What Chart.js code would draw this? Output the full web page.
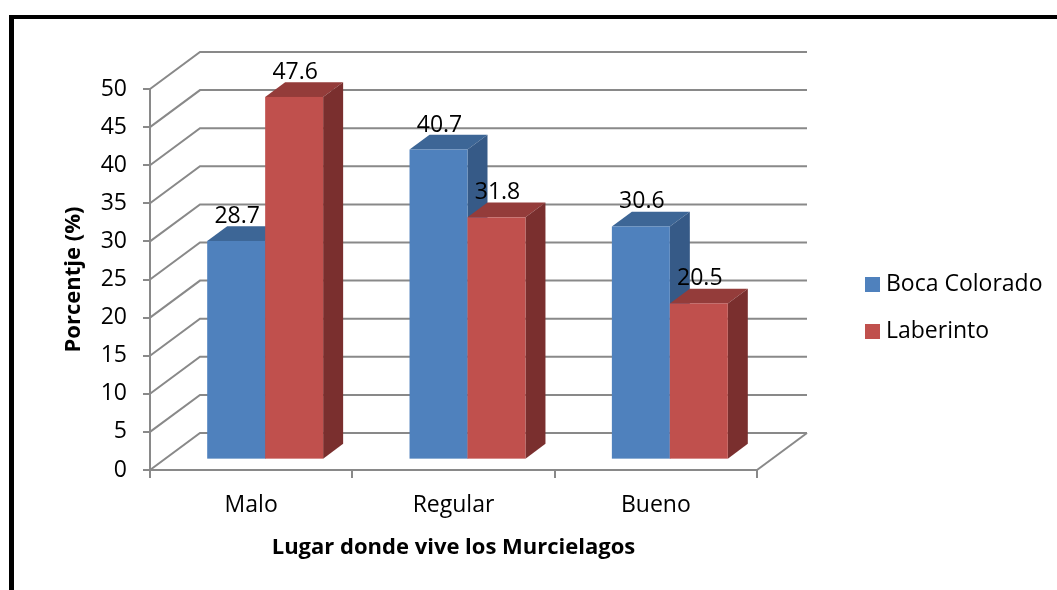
<!DOCTYPE html>
<html>
<head>
<meta charset="utf-8">
<script src="https://cdn.jsdelivr.net/npm/chart.js@4.4.1/dist/chart.umd.min.js"></script>
<style>
  html, body { margin: 0; padding: 0; background: #fff; overflow: hidden; }
</style>
</head>
<body>
<canvas id="chart" width="1057" height="590"></canvas>
<script>
// datos
const categories = ['Malo', 'Regular', 'Bueno'];
const seriesNames = ['Boca Colorado', 'Laberinto'];
const bocaColorado = [28.7, 40.7, 30.6];
const laberinto = [47.6, 31.8, 20.5];
const yMin = 0, yMax = 50, yStep = 5;

const FONT = 'Open Sans';
const frontColors = ['#4F81BD', '#C0504D'];
const topColors = ['#3D6696', '#943C3A'];
const sideColors = ['#365A87', '#7A2F2E'];
const GRID = '#898989';

// profundidad del efecto 3D
const DX = 50, DY = -37;          // pared del fondo
const F0 = 0.28, F1 = 0.68;       // cara frontal / trasera de las barras

const box3d = {
  id: 'box3d',
  beforeDraw(chart) {
    const ctx = chart.ctx;
    ctx.save();
    ctx.fillStyle = '#fff';
    ctx.fillRect(0, 0, chart.width, chart.height);
    ctx.fillStyle = '#000';
    ctx.fillRect(9, 15, 5, chart.height - 15);
    ctx.fillRect(9, 15, chart.width - 9, 4);
    ctx.restore();
  },
  beforeDatasetsDraw(chart) {
    const ctx = chart.ctx;
    const area = chart.chartArea;
    const y = chart.scales.y;
    ctx.save();
    // paredes: lineas de division
    ctx.strokeStyle = GRID;
    ctx.lineWidth = 2;
    y.ticks.forEach(t => {
      const py = y.getPixelForValue(t.value);
      ctx.beginPath();
      ctx.moveTo(area.left, py);
      ctx.lineTo(area.left + DX, py + DY);
      ctx.lineTo(area.right + DX, py + DY);
      ctx.stroke();
    });
    // piso, borde derecho
    ctx.beginPath();
    ctx.moveTo(area.right, area.bottom);
    ctx.lineTo(area.right + DX, area.bottom + DY);
    ctx.stroke();

    // barras 3D
    const bx = (F1 - F0) * DX, by = (F1 - F0) * DY;
    const ox = F0 * DX, oy = F0 * DY;
    const metas = chart.data.datasets.map((d, i) => chart.getDatasetMeta(i));
    for (let c = 0; c < categories.length; c++) {
      metas.forEach((meta, s) => {
        const bar = meta.data[c];
        const L = bar.x - bar.width / 2 + ox, R = bar.x + bar.width / 2 + ox;
        const T = bar.y + oy, B = bar.base + oy;
        ctx.fillStyle = topColors[s];
        ctx.beginPath();
        ctx.moveTo(L, T); ctx.lineTo(R, T); ctx.lineTo(R + bx, T + by); ctx.lineTo(L + bx, T + by);
        ctx.closePath(); ctx.fill();
        ctx.fillStyle = sideColors[s];
        ctx.beginPath();
        ctx.moveTo(R, T); ctx.lineTo(R + bx, T + by); ctx.lineTo(R + bx, B + by); ctx.lineTo(R, B);
        ctx.closePath(); ctx.fill();
        ctx.fillStyle = frontColors[s];
        ctx.fillRect(L, T, R - L, B - T);
      });
    }
    // etiquetas de datos
    ctx.fillStyle = '#000';
    ctx.font = '23px "' + FONT + '"';
    ctx.textAlign = 'center';
    ctx.textBaseline = 'alphabetic';
    metas.forEach((meta, s) => {
      meta.data.forEach((bar, c) => {
        const v = chart.data.datasets[s].data[c];
        ctx.fillText(v.toFixed(1), bar.x + ox + 1, bar.y + oy - 18);
      });
    });
    ctx.restore();
    return false;
  },
  afterDraw(chart) {
    const ctx = chart.ctx;
    ctx.save();
    ctx.font = '23px "' + FONT + '"';
    ctx.textBaseline = 'middle';
    ctx.textAlign = 'left';
    chart.data.datasets.forEach((d, i) => {
      const cy = 284 + i * 47;
      ctx.fillStyle = d.backgroundColor;
      ctx.fillRect(865, cy - 7, 15, 15);
      ctx.fillStyle = '#000';
      ctx.fillText(d.label, 886, cy);
    });
    ctx.restore();
  }
};

new Chart(document.getElementById('chart'), {
  type: 'bar',
  data: {
    labels: categories,
    datasets: [
      { label: seriesNames[0], data: bocaColorado, backgroundColor: frontColors[0] },
      { label: seriesNames[1], data: laberinto, backgroundColor: frontColors[1] }
    ]
  },
  options: {
    responsive: false,
    animation: false,
    categoryPercentage: 0.573,
    barPercentage: 1,
    layout: { padding: { left: 60, top: 89, right: 300, bottom: 0 } },
    plugins: {
      legend: { display: false },
      tooltip: { enabled: false }
    },
    scales: {
      x: {
        offset: true,
        grid: { offset: true, drawOnChartArea: false, tickLength: 8, color: GRID, lineWidth: 2 },
        border: { color: GRID, width: 2 },
        ticks: { color: '#000', padding: 14, font: { family: FONT, size: 23 } },
        title: {
          display: true,
          text: 'Lugar donde vive los Murcielagos',
          color: '#000',
          font: { family: FONT, size: 22, weight: 'bold' },
          padding: { top: 0, bottom: 29 }
        },
        afterFit(scale) { scale.height = 120; }
      },
      y: {
        min: yMin,
        max: yMax,
        grid: { drawOnChartArea: false, tickLength: 7, color: GRID, lineWidth: 2 },
        border: { color: GRID, width: 2 },
        ticks: { stepSize: yStep, color: '#000', padding: 16, font: { family: FONT, size: 23 } },
        title: {
          display: true,
          text: 'Porcentje (%)',
          color: '#000',
          font: { family: FONT, size: 22, weight: 'bold' },
          padding: { top: 1, bottom: 0 }
        },
        afterFit(scale) { scale.width = 90; }
      }
    }
  },
  plugins: [box3d]
});
</script>
</body>
</html>
